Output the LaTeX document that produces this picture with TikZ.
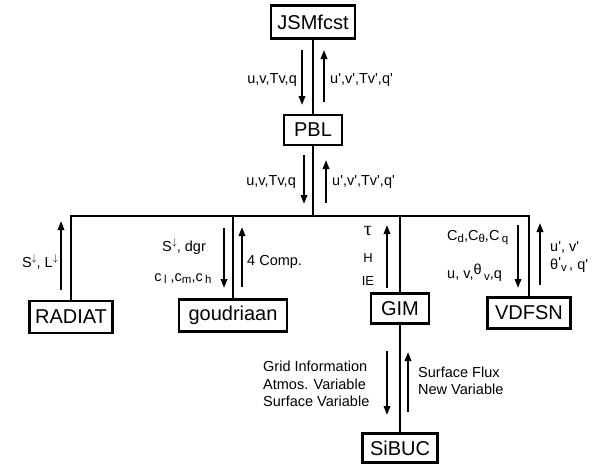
\documentclass[tikz,border=0pt]{standalone}
\usepackage{fontspec}
\setmainfont{Liberation Sans}
\newfontfamily\serifgr{Liberation Serif}
\usetikzlibrary{arrows.meta}
\newcommand{\mydn}{\raisebox{6pt}{\fontsize{10}{10}\selectfont$\downarrow$}}
\newcommand{\mylo}[1]{\raisebox{-2pt}{\fontsize{11.5}{11.5}\selectfont #1}}
\newcommand{\myhi}[1]{\raisebox{4pt}{#1}}
\newcommand{\myp}{\textquotesingle}
\tikzset{
  box/.style={draw, line width=2.2pt, font=\fontsize{20}{24}\selectfont, inner sep=0pt, minimum height=32pt},
  lbl/.style={font=\fontsize{14.5}{17.5}\selectfont, inner sep=0pt},
  conn/.style={line width=1.9pt},
  arr/.style={line width=1.9pt, -{Triangle[length=9pt,width=6.5pt]}}
}
\begin{document}
\begin{tikzpicture}[x=1pt,y=-1pt]
\useasboundingbox (0,0) rectangle (596,463);
% boxes
\node[box, minimum width=84pt, minimum height=33pt] (jsm) at (313,22) {JSMfcst};
\node[box, minimum width=58pt, minimum height=30pt] (pbl) at (313,130) {PBL};
\node[box, minimum width=83pt] (rad) at (71,317) {RADIAT};
\node[box, minimum width=108pt, minimum height=32pt] (gou) at (233,315.5) {goudriaan};
\node[box, minimum width=58pt, minimum height=30pt] (gim) at (400,308.5) {GIM};
\node[box, minimum width=83pt, minimum height=31pt] (vdf) at (529,313) {VDFSN};
\node[box, minimum width=75pt, minimum height=29pt] (sib) at (400,448) {SiBUC};
% connectors
\coordinate (bus) at (313,216);
\draw[conn] (jsm) -- (pbl);
\draw[conn] (pbl) -- (bus);
\draw[conn] (rad) -- (rad |- bus) -- (vdf |- bus) -- (vdf);
\draw[conn] (gou |- bus) -- (gou);
\draw[conn] (gim |- bus) -- (gim);
\draw[conn] (gim) -- (sib);
% arrows
\coordinate (a1s) at (302,50);  \coordinate (a1e) at (302,105);
\coordinate (a2s) at (324,102); \coordinate (a2e) at (324,50);
\coordinate (a3s) at (304,155); \coordinate (a3e) at (304,204);
\coordinate (a4s) at (326,203); \coordinate (a4e) at (326,160);
\coordinate (a5s) at (61,290);  \coordinate (a5e) at (61,221);
\coordinate (a6s) at (224,228); \coordinate (a6e) at (224,288);
\coordinate (a7s) at (242,287); \coordinate (a7e) at (242,227);
\coordinate (a8s) at (387,288); \coordinate (a8e) at (387,225);
\coordinate (a9s) at (518,225); \coordinate (a9e) at (518,288);
\coordinate (a10s) at (540,285); \coordinate (a10e) at (540,223);
\coordinate (a11s) at (387,351); \coordinate (a11e) at (387,415);
\coordinate (a12s) at (408,412); \coordinate (a12e) at (408,352);
\foreach \i in {1,...,12} \draw[arr] (a\i s) -- (a\i e);
% labels
\node[lbl, anchor=east] (l1) at (297,80) {u,v,Tv,q};
\node[lbl, anchor=west] (l2) at (330,80) {u\myp,v\myp,Tv\myp,q\myp};
\node[lbl, anchor=east] (l3) at (296,182) {u,v,Tv,q};
\node[lbl, anchor=west] (l4) at (332,182) {u\myp,v\myp,Tv\myp,q\myp};
\node[lbl, anchor=east] (l5) at (58,262) {S\mydn, L\mydn};
\node[lbl] (l6) at (184,247) {S\mydn, dgr};
\node[lbl] (l7) at (183,279) {c\,\mylo{l}\ ,c\mylo{m},c\,\mylo{h}};
\node[lbl, anchor=west] (l8) at (247,262) {4 Comp.};
\node[lbl, font=\fontsize{20}{20}\serifgr] (l9) at (368,231) {τ};
\node[lbl, font=\fontsize{13}{13}\selectfont] (l10) at (368,258) {H};
\node[lbl, font=\fontsize{13}{13}\selectfont] (l11) at (368,281) {IE};
\node[lbl, anchor=west] (l12) at (447,238) {C\mylo{d},C\mylo{θ},C\,\mylo{q}};
\node[lbl, anchor=west] (l13) at (447,273) {u, v,\myhi{θ}\,\mylo{v},q};
\node[lbl, anchor=west] (l14) at (550,247) {u\myp, v\myp};
\node[lbl, anchor=west] (l15) at (550,265) {θ\raisebox{2pt}{\myp}\mylo{v}\,, q\myp};
\node[lbl, anchor=west, align=left] (l16) at (263,384) {Grid Information\\Atmos. Variable\\Surface Variable};
\node[lbl, anchor=west, align=left] (l17) at (418,381) {Surface Flux\\New Variable};
\end{tikzpicture}
\end{document}
